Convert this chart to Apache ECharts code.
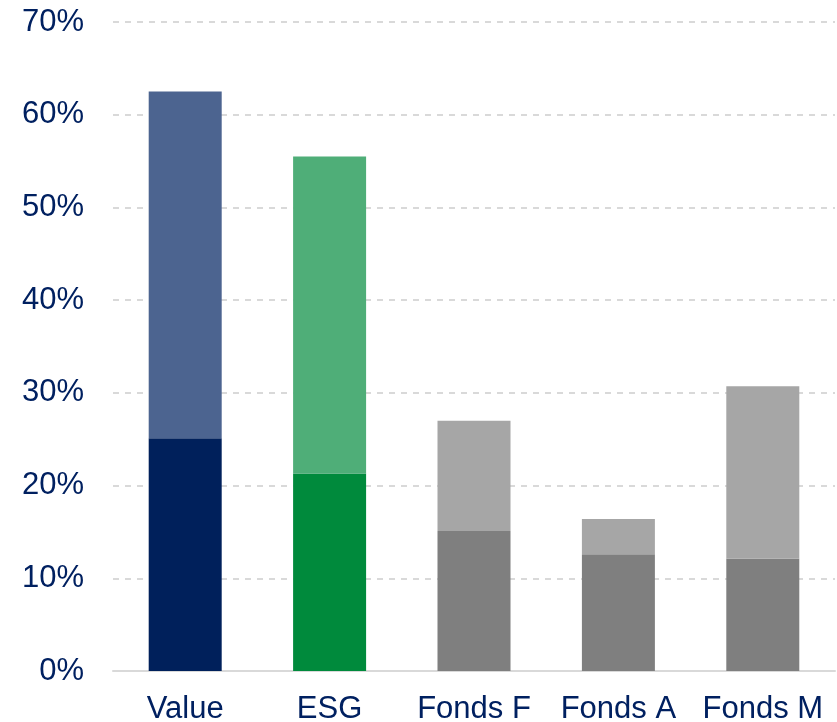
<!DOCTYPE html>
<html>
<head>
<meta charset="utf-8">
<script src="https://cdn.jsdelivr.net/npm/echarts@6/dist/echarts.min.js"></script>
<style>
  html, body { margin: 0; padding: 0; background: #fff; }
  #chart { width: 837px; height: 722px; }
</style>
</head>
<body>
<div id="chart"></div>
<script>
// categories and stacked segments (in %)
var categories = ['Value', 'ESG', 'Fonds F', 'Fonds A', 'Fonds M'];
var lowerValues = [25.1, 21.3, 15.1, 12.6, 12.1];
var upperValues = [37.4, 34.2, 11.9, 3.8, 18.6];
var lowerColors = ['#00205B', '#008A3C', '#7F7F7F', '#7F7F7F', '#7F7F7F'];
var upperColors = ['#4C6490', '#4FAE78', '#A6A6A6', '#A6A6A6', '#A6A6A6'];

var navy = '#002060';
var chart = echarts.init(document.getElementById('chart'));

function withColors(values, colors) {
  return values.map(function (v, i) {
    return { value: v, itemStyle: { color: colors[i] } };
  });
}

chart.setOption({
  animation: false,
  grid: { left: 113, right: 2, top: 22, bottom: 51, outerBoundsMode: 'none', containLabel: false },
  xAxis: {
    type: 'category',
    data: categories,
    axisTick: { show: false },
    axisLine: { lineStyle: { color: '#D9D9D9', width: 2 } },
    axisLabel: {
      color: navy,
      fontFamily: 'Liberation Sans, Arial, sans-serif',
      fontSize: 31,
      margin: 23,
      interval: 0,
      hideOverlap: false
    }
  },
  yAxis: {
    type: 'value',
    min: 0,
    max: 70,
    interval: 10,
    axisLine: { show: false },
    axisTick: { show: false },
    splitLine: {
      lineStyle: { color: '#D9D9D9', type: [6, 6], width: 2 }
    },
    axisLabel: {
      color: navy,
      fontFamily: 'Liberation Sans, Arial, sans-serif',
      fontSize: 31,
      margin: 29,
      padding: [4, 0, 0, 0],
      formatter: '{value}%'
    }
  },
  series: [
    {
      name: 'lower',
      type: 'bar',
      stack: 'total',
      barWidth: 73,
      data: withColors(lowerValues, lowerColors)
    },
    {
      name: 'upper',
      type: 'bar',
      stack: 'total',
      barWidth: 73,
      data: withColors(upperValues, upperColors)
    }
  ]
});
</script>
</body>
</html>
